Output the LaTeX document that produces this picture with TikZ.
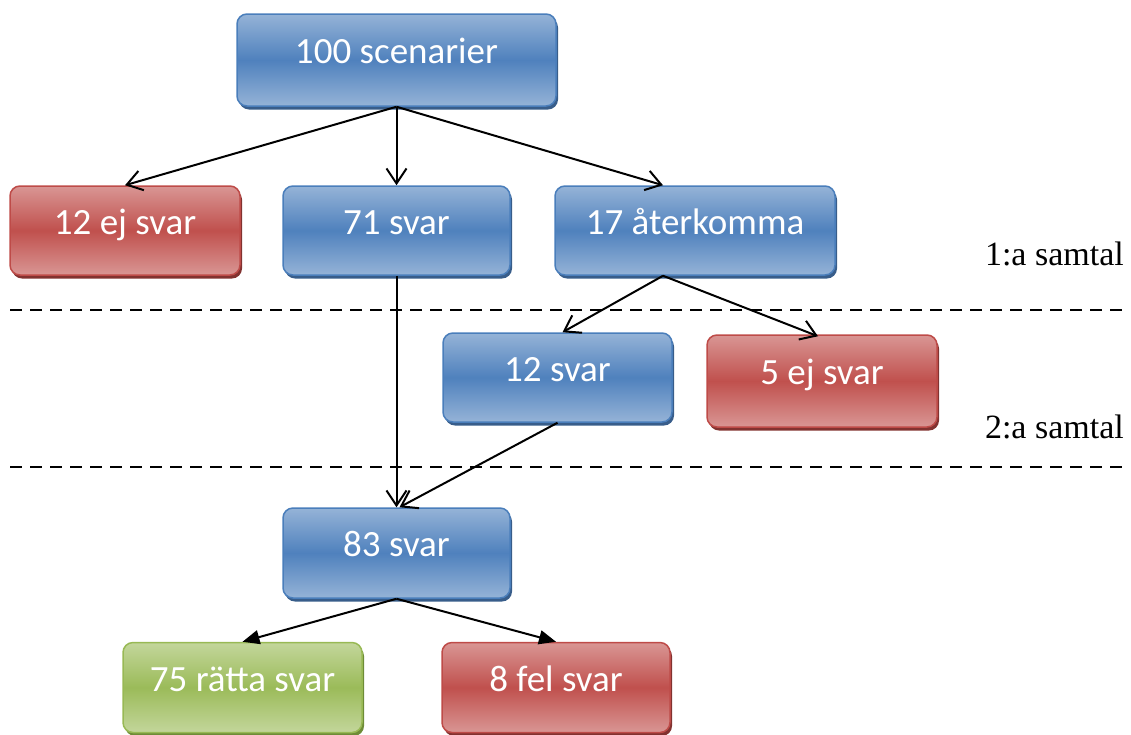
\documentclass[tikz,border=0pt]{standalone}
\usepackage{fontspec}
\setmainfont{Liberation Serif}
\newfontfamily\boxfont{Carlito}
\usetikzlibrary{arrows.meta,shadows}

\definecolor{bluelight}{RGB}{149,179,215}
\definecolor{bluemid}{RGB}{79,129,189}
\definecolor{blueline}{RGB}{74,126,187}
\definecolor{blueshadow}{RGB}{56,93,138}
\definecolor{redlight}{RGB}{217,150,148}
\definecolor{redmid}{RGB}{192,80,77}
\definecolor{redline}{RGB}{190,75,72}
\definecolor{redshadow}{RGB}{130,50,48}
\definecolor{greenlight}{RGB}{195,214,155}
\definecolor{greenmid}{RGB}{155,187,89}
\definecolor{greenline}{RGB}{152,185,84}
\definecolor{greenshadow}{RGB}{110,140,55}

\begin{document}
\begin{tikzpicture}
[x=1pt,y=-1pt,
 box/.style={rounded corners=10pt,line width=1.5pt,minimum height=89pt,
   text=white,font=\boxfont\fontsize{37}{40}\selectfont,
   text height=22pt,text depth=15pt,inner sep=0pt},
 bluebox/.style={box,draw=blueline,top color=bluelight,bottom color=bluelight,
   middle color=bluemid,general shadow={shadow xshift=2pt,shadow yshift=-3.5pt,fill=blueshadow}},
 redbox/.style={box,draw=redline,top color=redlight,bottom color=redlight,
   middle color=redmid,general shadow={shadow xshift=2pt,shadow yshift=-3.5pt,fill=redshadow}},
 greenbox/.style={box,draw=greenline,top color=greenlight,bottom color=greenlight,
   middle color=greenmid,general shadow={shadow xshift=2pt,shadow yshift=-3.5pt,fill=greenshadow}},
 open/.style={-{Straight Barb[length=15pt,width=20pt]},line width=2pt},
 solid/.style={-{Triangle[length=17pt,width=14pt]},line width=2pt},
 sep/.style={line width=2.4pt,dash pattern=on 12pt off 8pt},
 call/.style={font=\fontsize{34}{38}\selectfont,anchor=base east,inner sep=0pt}]
\useasboundingbox (0,0) rectangle (1131,734);

\draw[sep] (10,310) -- (1125,310);
\draw[sep] (10,467) -- (1125,467);
\node[call] (c1) at (1124,265) {1:a samtal};
\node[call] (c2) at (1124,438) {2:a samtal};

\node[bluebox,minimum width=319pt,minimum height=92pt] (scen) at (396.5,60) {100 scenarier};
\node[redbox,minimum width=230pt] (ej1) at (125,230.5) {12 ej svar};
\node[bluebox,minimum width=227pt] (svar71) at (396.5,230.5) {71 svar};
\node[bluebox,minimum width=280pt] (aterk) at (695,230.5) {17 återkomma};

\node[bluebox,minimum width=229pt] (svar12) at (557.5,377.5) {12 svar};
\node[redbox,minimum width=230pt,minimum height=92pt] (ej2) at (822,381) {5 ej svar};

\node[bluebox,minimum width=227pt,minimum height=90pt] (svar83) at (396.5,553) {83 svar};
\node[greenbox,minimum width=239pt,minimum height=90pt] (ratta) at (242.5,687.5) {75 rätta svar};
\node[redbox,minimum width=228pt,minimum height=90pt] (fel) at (556,687.5) {8 fel svar};

\foreach \from/\to in {scen.south/ej1.north,scen.south/svar71.north,svar71.south/svar83.north}
\draw[open] (\from) -- (\to);
\draw[open] (scen.south) -- ([xshift=-32pt]aterk.north);
\draw[open] ([xshift=-32pt]aterk.south) -- ([xshift=5pt]svar12.north);
\draw[open] ([xshift=-32pt]aterk.south) -- ([xshift=-4pt,yshift=-2pt]ej2.north);
\draw[open] (svar12.south) -- ([xshift=3pt]svar83.north);
\foreach \to in {ratta,fel}
\draw[solid] (svar83.south) -- (\to.north);
\end{tikzpicture}
\end{document}
